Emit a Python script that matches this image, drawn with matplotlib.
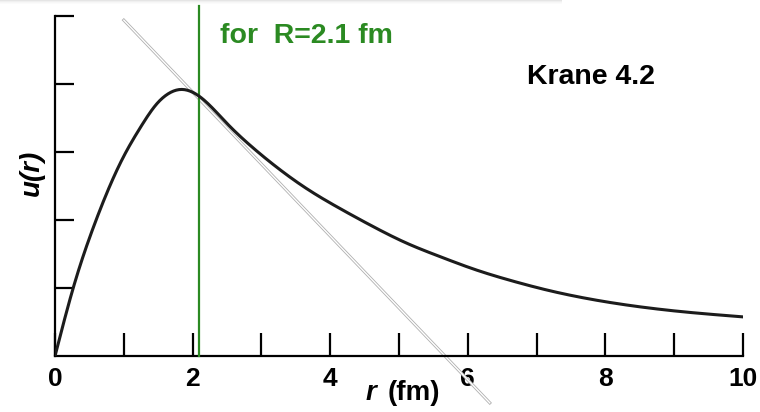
import numpy as np
import matplotlib.pyplot as plt
from matplotlib.patches import Rectangle

plt.rcParams['font.family'] = ['Liberation Sans', 'DejaVu Sans']

# deuteron radial wavefunction u(r), arbitrary units
r = [0.0, 0.27, 0.56, 0.75, 0.99, 1.24, 1.48, 1.65, 1.82, 2.11, 2.50, 2.88,
     3.27, 3.66, 4.14, 4.63, 5.11, 5.60, 6.08, 6.66, 7.15, 7.63, 8.11, 8.60,
     9.08, 9.57, 10.0]
u = [0.0, 1.02, 1.90, 2.39, 2.92, 3.36, 3.71, 3.86, 3.92, 3.81, 3.42, 3.06,
     2.74, 2.46, 2.17, 1.90, 1.66, 1.46, 1.28, 1.10, 0.97, 0.865, 0.78, 0.71,
     0.655, 0.61, 0.575]

R_match = 2.1
# tangent at the matching radius
tan_r = [1.0, 6.32]
tan_u = [4.94, -0.69]

green = '#2b8a22'


def spline(x, y, xn):
    # natural cubic spline through the points
    x = np.asarray(x, float)
    y = np.asarray(y, float)
    n = len(x)
    h = np.diff(x)
    A = np.zeros((n, n))
    b = np.zeros(n)
    A[0, 0] = A[-1, -1] = 1.0
    for i in range(1, n - 1):
        A[i, i - 1] = h[i - 1]
        A[i, i] = 2 * (h[i - 1] + h[i])
        A[i, i + 1] = h[i]
        b[i] = 6 * ((y[i + 1] - y[i]) / h[i] - (y[i] - y[i - 1]) / h[i - 1])
    M = np.linalg.solve(A, b)
    idx = np.clip(np.searchsorted(x, xn) - 1, 0, n - 2)
    hi = h[idx]
    a = x[idx + 1] - xn
    c = xn - x[idx]
    return (M[idx] * a**3 / (6 * hi) + M[idx + 1] * c**3 / (6 * hi)
            + (y[idx] / hi - M[idx] * hi / 6) * a
            + (y[idx + 1] / hi - M[idx + 1] * hi / 6) * c)


fig = plt.figure(figsize=(7.6, 4.12), dpi=100)
ax = fig.add_axes([0.0724, 0.136, 0.9052, 0.825])

# the double (outlined) tangent line
ax.plot(tan_r, tan_u, color='#b0b0b0', lw=2.2, clip_on=False, zorder=2)
ax.plot(tan_r, tan_u, color='white', lw=1.0, clip_on=False, zorder=2.1)

ax.plot([R_match, R_match], [0, 5.15], color=green, lw=1.6, clip_on=False, zorder=3)

rs = np.linspace(0, 10, 500)
ax.plot(rs, spline(r, u, rs), color='#1c1c1c', lw=2.2, zorder=4)

ax.set_xlim(0, 10)
ax.set_ylim(0, 5)
for s in ['top', 'right']:
    ax.spines[s].set_visible(False)
ax.spines['left'].set_linewidth(1.6)
ax.spines['bottom'].set_linewidth(1.6)

ax.set_xticks(np.arange(0, 11, 1))
ax.set_xticklabels([str(v) if v % 2 == 0 else '' for v in range(11)],
                   fontsize=19, fontweight='bold')
ax.set_yticks(np.arange(1, 6, 1))
ax.set_yticklabels([])
ax.tick_params(axis='x', direction='in', length=16.5, width=1.6, pad=8)
ax.tick_params(axis='y', direction='in', length=14, width=1.6)

ax.text(-0.034, 0.54, 'u(r)', transform=ax.transAxes, rotation=90,
        fontsize=20, fontweight='bold', fontstyle='italic', ha='center', va='center')
fig.text(0.488, 0.047, 'r', fontsize=20, fontweight='bold', fontstyle='italic',
         ha='center', va='center')
fig.text(0.545, 0.047, '(fm)', fontsize=20, fontweight='bold', ha='center', va='center')

ax.text(2.40, 4.70, 'for  R=2.1 fm', color=green, fontsize=20.5, fontweight='bold',
        va='center', ha='left')
ax.text(6.86, 4.10, 'Krane 4.2', color='black', fontsize=20.5, fontweight='bold',
        va='center', ha='left')

# faint shadow along the upper edge
for i, a in enumerate([0.10, 0.06, 0.03, 0.015]):
    fig.add_artist(Rectangle((0, 1 - (i + 1) / 412), 0.74, 1 / 412,
                             transform=fig.transFigure, color='black', alpha=a, lw=0))

fig.savefig('out.png', dpi=100)
